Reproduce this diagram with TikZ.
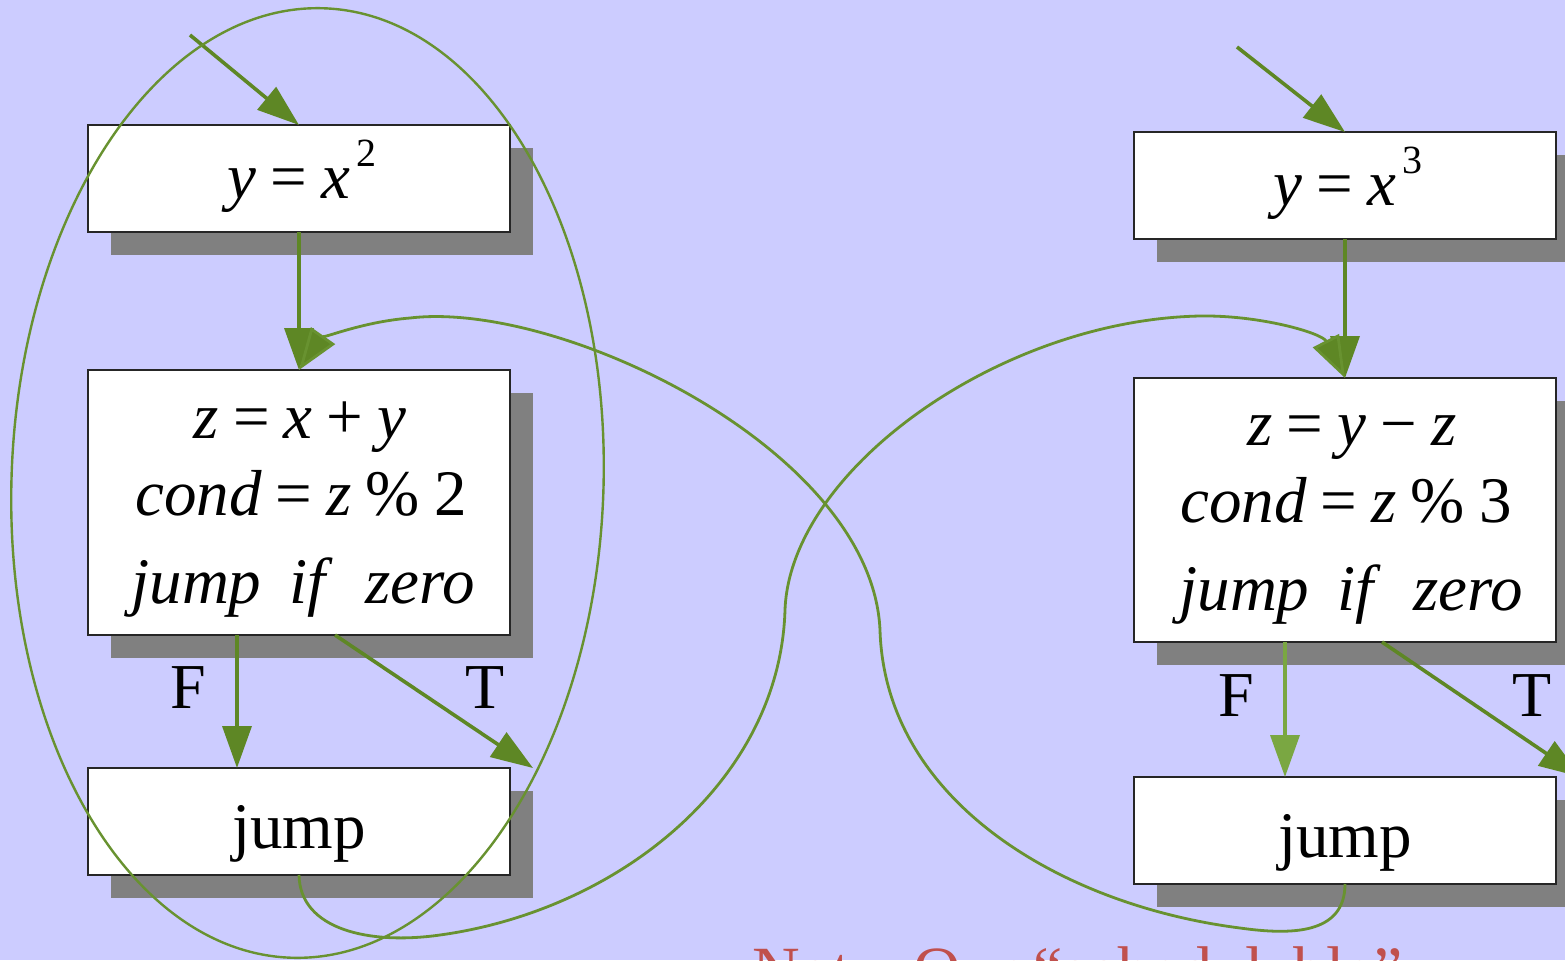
\documentclass[tikz,border=0pt]{standalone}
\usepackage{fontspec}
\setmainfont{Liberation Serif}
\usetikzlibrary{arrows.meta,shadows,calc}
\definecolor{bg}{RGB}{204,204,255}
\definecolor{grn}{RGB}{94,135,37}
\definecolor{lgrn}{RGB}{122,167,66}
\definecolor{cgrn}{RGB}{104,146,48}
\definecolor{shd}{RGB}{128,128,128}
\definecolor{redtxt}{RGB}{192,80,77}
\newcommand\mi[1]{\textit{#1}}
\newcommand\gp{\hspace{7pt}}
\begin{document}
\begin{tikzpicture}[x=0.5pt,y=-0.5pt,
  blockbox/.style={draw=black!85, line width=0.7pt, fill=white, minimum width=211pt,
    inner sep=0pt, outer sep=0pt,
    drop shadow={shadow xshift=11.5pt, shadow yshift=-11.5pt, fill=shd, opacity=1}},
  txt/.style={font=\fontsize{32.5}{38}\selectfont, anchor=base, inner sep=0pt, outer sep=0pt},
  lbl/.style={font=\fontsize{32}{38}\selectfont, anchor=base west, inner sep=0pt, outer sep=0pt},
  arr/.style={draw=grn, line width=1.8pt, -{Triangle[length=21pt,width=14.5pt]}},
  curv/.style={draw=cgrn, line width=1.4pt, -{Triangle[length=21pt,width=14.5pt,fill=grn]}},
  loopline/.style={draw=cgrn, line width=1.2pt},
  redt/.style={font=\fontsize{33}{40}\selectfont, text=redtxt, anchor=base west, inner sep=0pt, outer sep=0pt}
]
\useasboundingbox (0,0) rectangle (1565,960);
\clip (0,0) rectangle (1565,960);
\fill[bg] (0,0) rectangle (1565,960);

% left column
\node[blockbox, minimum height=53.5pt] (A) at (299,178.5) {};
\node[blockbox, minimum height=132.5pt] (B) at (299,502.5) {};
\node[blockbox, minimum height=53.5pt] (C) at (299,821.5) {};
% right column
\node[blockbox, minimum height=53.5pt] (D) at (1345,185.5) {};
\node[blockbox, minimum height=132pt] (E) at (1345,510) {};
\node[blockbox, minimum height=53.5pt] (F) at (1345,830.5) {};

% texts
\node[txt] (Atx) at (302,198) {\mi{y}\gp=\gp\mi{x}\hspace{3pt}\raisebox{16pt}{\fontsize{20}{24}\selectfont 2}};
\node[txt] (B1) at (300,438) {\mi{z}\gp=\gp\mi{x}\gp+\gp\mi{y}};
\node[txt] (B2) at (301,515) {\mi{cond}\gp=\gp\mi{z}\gp\%\gp2};
\node[txt] (B3) at (303,603) {\mi{jump}\hspace{14pt}\mi{if}\hspace{16pt}\mi{zero}};
\node[txt] (Ctx) at (299,848) {jump};

\node[txt] (Dtx) at (1348,205) {\mi{y}\gp=\gp\mi{x}\hspace{3pt}\raisebox{16pt}{\fontsize{20}{24}\selectfont 3}};
\node[txt] (E1) at (1352,445) {\mi{z}\gp=\gp\mi{y}\gp−\gp\mi{z}};
\node[txt] (E2) at (1346,522) {\mi{cond}\gp=\gp\mi{z}\gp\%\gp3};
\node[txt] (E3) at (1351,610) {\mi{jump}\hspace{14pt}\mi{if}\hspace{16pt}\mi{zero}};
\node[txt] (Ftx) at (1345,857) {jump};

% branch labels
\node[lbl] (FL) at (170,708) {F};
\node[lbl] (TL) at (465,708) {T};
\node[lbl] (FR) at (1218,716) {F};
\node[lbl] (TR) at (1512,716) {T};

% straight connectors
\coordinate (inL) at (190,35);
\coordinate (inR) at (1237,47);
\coordinate (tL) at (533,768);
\coordinate (tR) at (1581,777);
\draw[arr] (inL) -- (A.north);
\draw[arr] (A.south) -- (B.north);
\draw[arr] ($(B.south)+(-62,0)$) -- ($(C.north)+(-62,0)$);
\draw[arr] ($(B.south)+(36,0)$) -- (tL);
\draw[arr] (inR) -- (D.north);
\draw[arr] (D.south) -- (E.north);
\draw[arr, draw=lgrn] ($(E.south)+(-60,0)$) -- ($(F.north)+(-60,0)$);
\draw[arr] ($(E.south)+(37,0)$) -- (tR);

% big loop around the left column
\coordinate (ec) at (307.5,483);
\draw[loopline, rotate around={-2:(ec)}] (ec) ellipse [x radius=148pt, y radius=237.5pt];

% crossing curves
\draw[curv] (C.south) .. controls (300,930) and (370,945) .. (440,935)
  .. controls (620,910) and (780,780) .. (785,610)
  .. controls (790,470) and (1000,320) .. (1200,316)
  .. controls (1260,315) and (1322,333) .. (E.north);
\draw[curv] (F.south) .. controls (1345,935) and (1290,935) .. (1240,928)
  .. controls (1060,905) and (885,800) .. (880,630)
  .. controls (872,450) and (560,300) .. (410,318)
  .. controls (360,322) and (320,340) .. (B.north);

% cut-off caption at the bottom (cut by the picture edge, as in the reference)
\node[redt] (r1) at (752,992) {Not};
\node[redt] (r2) at (913,992) {Our};
\node[redt] (r3) at (1033,992) {“schedulable”};
\end{tikzpicture}
\end{document}
